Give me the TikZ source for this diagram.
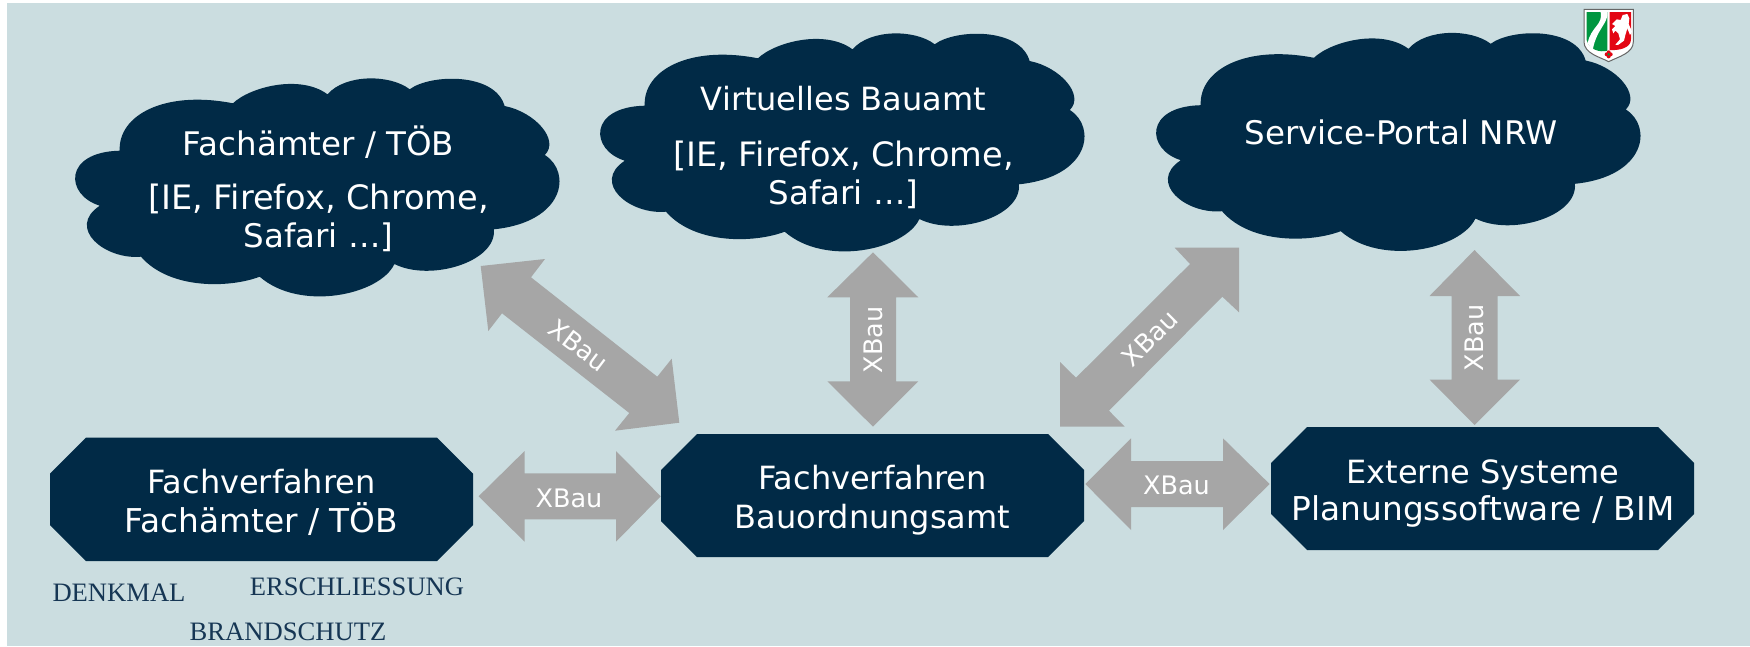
\documentclass[tikz,border=0pt]{standalone}
\usepackage{fontspec}
\setmainfont{DejaVu Sans}
\newfontfamily\serifface{Liberation Serif}
\definecolor{pagebg}{RGB}{203,221,224}
\definecolor{navy}{RGB}{1,42,70}
\definecolor{arrowgrey}{RGB}{166,166,166}
\definecolor{serifink}{RGB}{22,54,84}
\definecolor{shieldgreen}{RGB}{0,150,64}
\definecolor{shieldred}{RGB}{227,6,19}
\newcommand{\fsA}{\fontsize{32.5}{38}\selectfont}
\newcommand{\fsB}{\fontsize{33.6}{38}\selectfont}
\newcommand{\fsC}{\fontsize{32}{39}\selectfont}
\newcommand{\fsD}{\fontsize{32.8}{39}\selectfont}
\newcommand{\fsE}{\fontsize{32}{37}\selectfont}
\tikzset{
  x=1pt,y=-1pt,
  cloudfill/.style={fill=navy,draw=none},
  cloudtext/.style={text=white,align=center,inner sep=0pt,font=\fsA},
  octofill/.style={fill=navy,draw=none},
  octotext/.style={text=white,align=center,inner sep=0pt,font=\fsC},
  blockarrow/.style={fill=arrowgrey,draw=none},
  xbau/.style={text=white,inner sep=0pt,font=\fontsize{25.5}{30}\selectfont},
  tag/.style={text=serifink,inner sep=0pt,font=\serifface\fontsize{26.6}{30}\selectfont},
}
\newcommand{\cloudoutline}{
  (119.7,150.7) .. controls (118,115) and (165,90) .. (232.9,103.3)
  .. controls (250,87) and (300,74) .. (327.5,94.3)
  .. controls (345,74) and (390,74) .. (409.7,89.3)
  .. controls (430,74) and (495,72) .. (504.6,106)
  .. controls (535,112) and (560,140) .. (544.8,155)
  .. controls (572,172) and (565,222) .. (493.9,229.3)
  .. controls (497,262) and (430,282) .. (394.4,264)
  .. controls (380,295) and (300,312) .. (259.7,276.7)
  .. controls (230,288) and (170,290) .. (141,256.7)
  .. controls (105,260) and (66,228) .. (99.8,205.7)
  .. controls (65,195) and (63,152) .. (119.7,150.7) -- cycle
}
\newcommand{\octagon}[4]{% left, top, right, bottom
  \fill[octofill] ({#1+36},#2) -- ({#3-36},#2) -- (#3,{#2+36}) -- (#3,{#4-36}) -- ({#3-36},#4) -- ({#1+36},#4) -- (#1,{#4-36}) -- (#1,{#2+36}) -- cycle;}
\begin{document}
\begin{tikzpicture}
\useasboundingbox (0,0) rectangle (1750,646);
\fill[white] (0,0) rectangle (1750,646);
\fill[pagebg] (7,3) rectangle (1750,646);
% clouds
\fill[cloudfill] \cloudoutline;
\begin{scope}[shift={(525,-45)}]\fill[cloudfill] \cloudoutline;\end{scope}
\begin{scope}[shift={(1081,-45.5)}]\fill[cloudfill] \cloudoutline;\end{scope}
\node[cloudtext] (cloudA) at (318.5,189) {Fachämter / TÖB\\[16pt]{\fsB [IE, Firefox, Chrome,}\\Safari …]};
\node[cloudtext] (cloudB) at (843.5,147) {{\fsC Virtuelles Bauamt}\\[18pt]{\fsB [IE, Firefox, Chrome,}\\Safari …]};
\node[cloudtext] (cloudC) at (1401,132) {Service-Portal NRW};
% boxes
\octagon{50}{437.5}{473}{561}
\octagon{661}{434}{1084}{557}
\octagon{1271}{427}{1694}{550}
\node[octotext] (boxA) at (261.5,502.5) {Fachverfahren\\{\fsD Fachämter / TÖB}};
\node[octotext] (boxB) at (872.5,500.5) {Fachverfahren\\Bauordnungsamt};
\node[octotext,font=\fsE] (boxC) at (1483,493.5) {Externe Systeme\\{\fsD Planungssoftware / BIM}};
% arrows
\fill[blockarrow] (480.7,266) -- (545,259) -- (531,277.3) -- (657.3,376.7) -- (671.7,358.7) -- (679.3,422.7) -- (615,430.7) -- (629.3,413) -- (502,313.3) -- (488.3,331) -- cycle;
\node[xbau,rotate=-37] (xbauA) at (578.5,345.5) {XBau};
\fill[blockarrow] (873,252.3) -- (918.3,297.3) -- (896,297.3) -- (896,381.3) -- (918.3,381.3) -- (873,426.7) -- (827.3,381.3) -- (850,381.3) -- (850,297.3) -- (827.3,297.3) -- cycle;
\node[xbau,rotate=90] (xbauB) at (873,340) {XBau};
\fill[blockarrow] (1239,247.7) -- (1239,312.3) -- (1222.3,296.7) -- (1109,410.7) -- (1124.7,426.7) -- (1060,426.7) -- (1060,362) -- (1076,377.7) -- (1190,264) -- (1174.7,247.7) -- cycle;
\node[xbau,rotate=45] (xbauC) at (1150,338) {XBau};
\fill[blockarrow] (1474.5,250) -- (1520,296) -- (1497.5,296) -- (1497.5,379.5) -- (1520,379.5) -- (1474.5,425) -- (1429.5,379.5) -- (1451.5,379.5) -- (1451.5,296) -- (1429.5,296) -- cycle;
\node[xbau,rotate=90] (xbauD) at (1474.5,338) {XBau};
\fill[blockarrow] (478.6,496.3) -- (524.6,451) -- (524.6,473.3) -- (616,473.3) -- (616,451) -- (660.7,496.3) -- (616,541.7) -- (616,519.3) -- (524.6,519.3) -- (524.6,541.7) -- cycle;
\node[xbau] (xbauE) at (569,498) {XBau};
\fill[blockarrow] (1085.3,484) -- (1131,438.3) -- (1131,461) -- (1223,461) -- (1223,438.3) -- (1269.6,484) -- (1223,530) -- (1223,507) -- (1131,507) -- (1131,530) -- cycle;
\node[xbau] (xbauF) at (1176.5,485) {XBau};
% tags
\node[tag] (tagDenkmal) at (119,593) {DENKMAL};
\node[tag] (tagErschl) at (357,587) {ERSCHLIESSUNG};
\node[tag] (tagBrand) at (288,632) {BRANDSCHUTZ};
% coat of arms
\begin{scope}[shift={(1550,0)},x=.33333pt,y=-.33333pt]
\fill[white,draw=black!60,line width=1pt] (102,28) -- (250,28) -- (250,125) .. controls (250,160) and (205,170) .. (176,185) .. controls (147,170) and (102,160) .. (102,125) -- cycle;
\fill[shieldgreen] (110,36) -- (172,36) -- (172,152) .. controls (150,158) and (118,150) .. (110,120) -- cycle;
\fill[white] (152,36) -- (172,36) .. controls (176,70) and (140,85) .. (128,150) -- (113,130) .. controls (122,80) and (160,75) .. (152,36) -- cycle;
\fill[shieldred] (179,36) -- (243,36) -- (243,118) .. controls (243,145) and (205,152) .. (179,150) -- cycle;
\fill[white] (186,72) -- (200,58) -- (212,60) -- (218,45) -- (232,42) -- (238,55) -- (236,72) -- (246,95) -- (240,105) -- (232,85) -- (226,105) -- (222,122) -- (204,135) -- (196,134) -- (210,118) -- (205,100) -- (196,92) -- (190,100) -- (186,88) -- (196,78) -- cycle;
\fill[shieldred] (170,163) circle[radius=6];
\fill[shieldred] (176,157) circle[radius=6];
\fill[shieldred] (182,163) circle[radius=6];
\fill[shieldred] (176,169) circle[radius=6];
\fill[shieldgreen] (176,163) circle[radius=4];
\end{scope}
\end{tikzpicture}
\end{document}
